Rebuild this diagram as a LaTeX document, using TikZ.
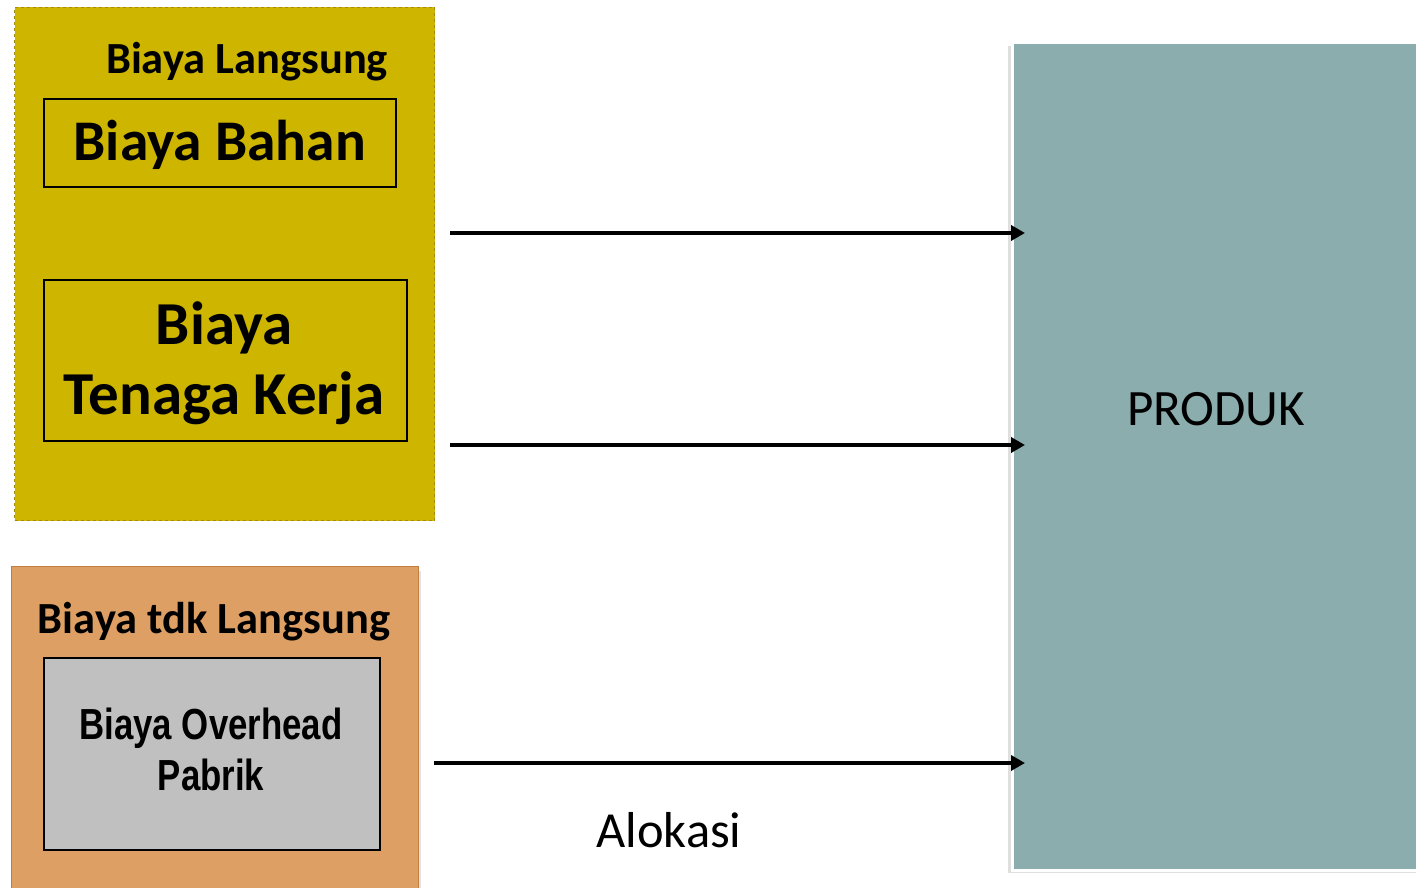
\documentclass[tikz,border=0pt]{standalone}
\usepackage{fontspec}
\setmainfont{Carlito}
\newfontfamily\narrowbold[FakeStretch=0.80]{Liberation Sans Bold}
\usetikzlibrary{arrows.meta}
\definecolor{olivefill}{RGB}{205,181,0}
\definecolor{olivedash}{RGB}{160,140,10}
\definecolor{orangefill}{RGB}{221,159,99}
\definecolor{orangeedge}{RGB}{190,128,60}
\definecolor{greyfill}{RGB}{192,192,192}
\definecolor{tealfill}{RGB}{139,173,173}
\tikzset{
  x=1pt, y=-1pt,
  costbox/.style={draw=black, line width=1.6pt, inner sep=0pt},
  arr/.style={line width=3.5pt, -{Triangle[length=14pt,width=15pt]}},
}
\begin{document}
\begin{tikzpicture}
\useasboundingbox (0,0) rectangle (1416,888);

% direct costs group
\node[draw=olivedash, dashed, line width=1pt, fill=olivefill, inner sep=0pt,
      minimum width=420pt, minimum height=513pt, anchor=north west] (direct) at (14,7) {};
\node[font=\bfseries\fontsize{44.5}{50}\selectfont, anchor=center] (directlbl) at (247,62) {Biaya Langsung};
\node[costbox, minimum width=352pt, minimum height=88pt, anchor=north west] (bahan) at (43,98) {};
\node[font=\bfseries\fontsize{57.5}{64}\selectfont] (bahanlbl) at ([yshift=-2pt]bahan.center) {Biaya Bahan};
\node[costbox, minimum width=363pt, minimum height=161pt, anchor=north west] (tenaga) at (43,279) {};
\node[font=\bfseries\fontsize{61}{70}\selectfont, align=center] (tenagalbl) at (224,363) {Biaya\\Tenaga Kerja};

% indirect costs group
\fill[black!25, opacity=0.45] (14,571) rectangle (421,892);
\node[draw=orangeedge, line width=1pt, fill=orangefill, inner sep=0pt,
      minimum width=407pt, minimum height=330pt, anchor=north west] (indirect) at (11,566) {};
\node[font=\bfseries\fontsize{44.5}{50}\selectfont] (indirectlbl) at (214,622) {Biaya tdk Langsung};
\node[costbox, fill=greyfill, minimum width=336pt, minimum height=192pt, anchor=north west] (overhead) at (43,657) {};
\node[font=\narrowbold\fontsize{43.5}{51}\selectfont, align=center] (overheadlbl) at (211,749) {Biaya Overhead\\Pabrik};

% product
\fill[black!25, opacity=0.5] (1008,46) rectangle (1420,873);
\node[draw=white, line width=3pt, fill=tealfill, inner sep=0pt,
      minimum width=408pt, minimum height=828pt, anchor=north west] (prod) at (1011,41) {};
\node[font=\fontsize{51}{56}\selectfont] (prodlbl) at (1216,409) {PRODUK};

% allocation arrows
\coordinate (s1) at (450,233);
\coordinate (s2) at (450,445);
\coordinate (s3) at (434,763);
\draw[arr] (s1) -- ([xshift=14pt]prod.west |- s1);
\draw[arr] (s2) -- ([xshift=14pt]prod.west |- s2);
\draw[arr] (s3) -- ([xshift=14pt]prod.west |- s3);
\node[font=\fontsize{50.5}{56}\selectfont] (alokasi) at (669,830) {Alokasi};
\end{tikzpicture}
\end{document}
